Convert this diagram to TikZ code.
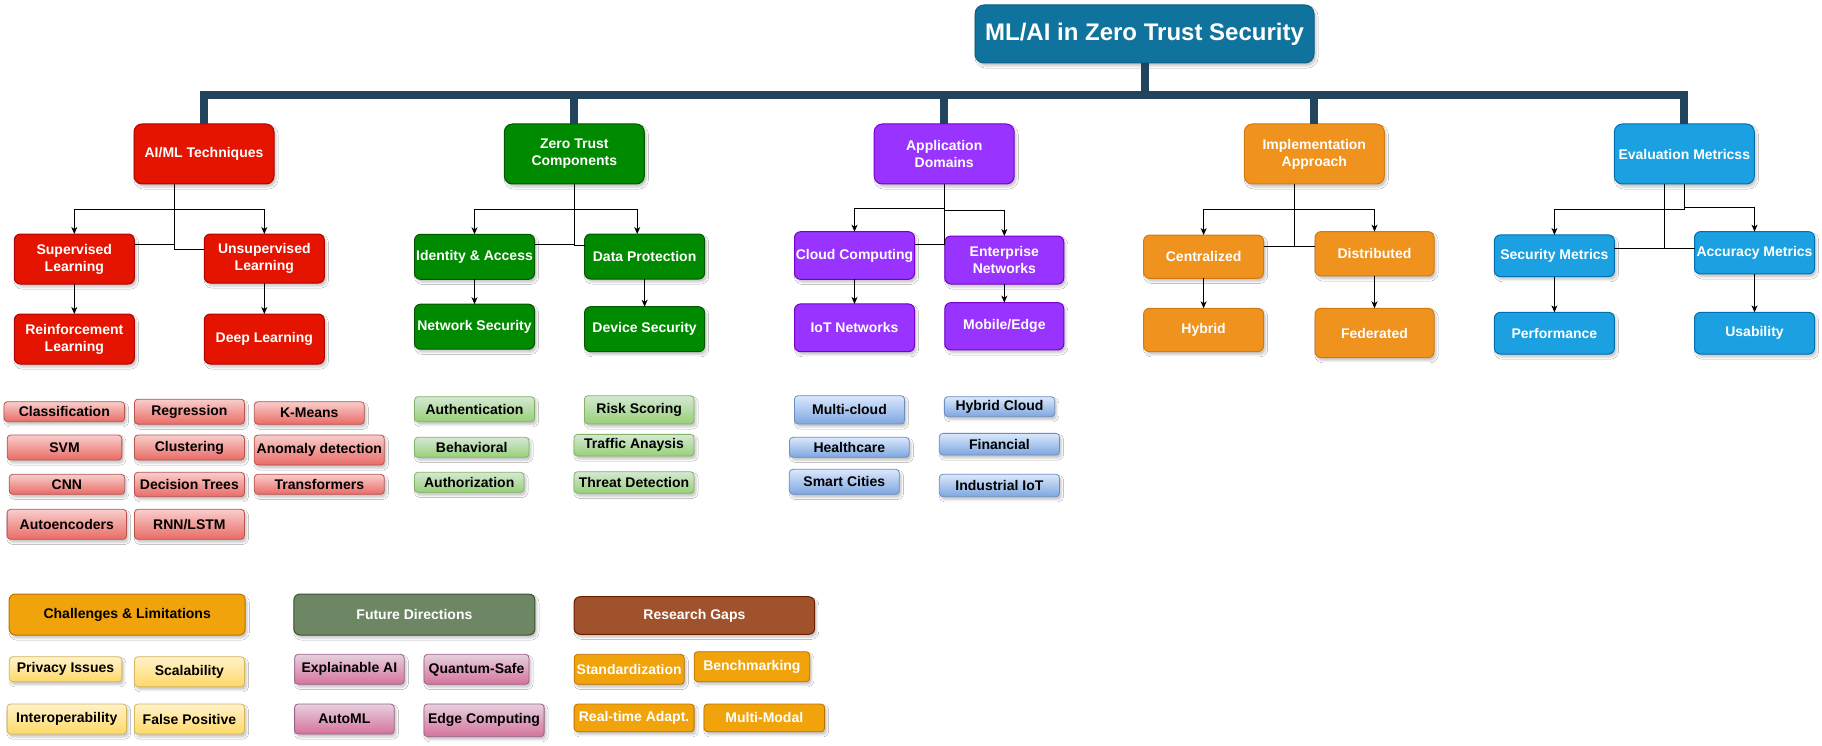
\documentclass[tikz,border=0pt]{standalone}
\usepackage{fontspec}
\setmainfont{Liberation Sans}
\usetikzlibrary{arrows.meta,shadows.blur}

% palette
\definecolor{titlefill}{HTML}{10739E}
\definecolor{titleedge}{HTML}{0C5F84}
\definecolor{busblue}{HTML}{23445D}
\definecolor{redfill}{HTML}{E51400}
\definecolor{rededge}{HTML}{B20000}
\definecolor{greenfill}{HTML}{008A00}
\definecolor{greenedge}{HTML}{005700}
\definecolor{purplefill}{HTML}{9933FF}
\definecolor{purpleedge}{HTML}{7700CC}
\definecolor{orangefill}{HTML}{F0921E}
\definecolor{orangeedge}{HTML}{D27A12}
\definecolor{bluefill}{HTML}{1BA1E2}
\definecolor{blueedge}{HTML}{006EAF}
\definecolor{ambfill}{HTML}{F0A30A}
\definecolor{ambedge}{HTML}{BD7000}
\definecolor{olivefill}{HTML}{6D8764}
\definecolor{oliveedge}{HTML}{3A5431}
\definecolor{siennafill}{HTML}{A0522D}
\definecolor{siennaedge}{HTML}{6D1F00}
\definecolor{lrtop}{HTML}{F8CECC}\definecolor{lrbot}{HTML}{EA6B66}\definecolor{lredge}{HTML}{B85450}
\definecolor{lgtop}{HTML}{D5E8D4}\definecolor{lgbot}{HTML}{97D077}\definecolor{lgedge}{HTML}{82B366}
\definecolor{lbtop}{HTML}{DAE8FC}\definecolor{lbbot}{HTML}{7EA6E0}\definecolor{lbedge}{HTML}{6C8EBF}
\definecolor{lytop}{HTML}{FFF2CC}\definecolor{lybot}{HTML}{FFD966}\definecolor{lyedge}{HTML}{D6B656}
\definecolor{lptop}{HTML}{E6D0DE}\definecolor{lpbot}{HTML}{D5739D}\definecolor{lpedge}{HTML}{996185}

\begin{document}
\begin{tikzpicture}[x=1pt,y=-1pt,
  box/.style={draw, align=center, inner sep=0pt, outer sep=0pt,
    font=\fontsize{14}{17}\selectfont\bfseries, line width=1pt,
    blur shadow={shadow xshift=2pt, shadow yshift=-3pt, shadow opacity=22, shadow blur steps=4}},
  head/.style={box, rounded corners=8pt, minimum width=140pt, minimum height=60pt, text=white},
  sub/.style={box, rounded corners=6pt, text=white},
  leaf/.style={box, rounded corners=3.5pt, text=black, line width=0.8pt},
  band/.style={box, rounded corners=6pt},
  cred/.style={fill=redfill, draw=rededge},
  cgreen/.style={fill=greenfill, draw=greenedge},
  cpurple/.style={fill=purplefill, draw=purpleedge},
  corange/.style={fill=orangefill, draw=orangeedge},
  cblue/.style={fill=bluefill, draw=blueedge},
  lred/.style={leaf, top color=lrtop, bottom color=lrbot, draw=lredge},
  lgreen/.style={leaf, top color=lgtop, bottom color=lgbot, draw=lgedge},
  lblue/.style={leaf, top color=lbtop, bottom color=lbbot, draw=lbedge},
  lyellow/.style={leaf, top color=lytop, bottom color=lybot, draw=lyedge},
  lpink/.style={leaf, top color=lptop, bottom color=lpbot, draw=lpedge},
  lamber/.style={leaf, fill=ambfill, draw=ambedge, text=white},
  link/.style={draw=black, line width=1pt},
  arr/.style={link, -{Stealth[length=7pt,width=6pt,inset=2pt]}},
  bus/.style={draw=busblue, line width=8pt},
]
\fill[white] (0,0) rectangle (1822,746);
\useasboundingbox (0,0) rectangle (1822,746);

% root
\node[box, rounded corners=9pt, fill=titlefill, draw=titleedge, text=white,
      minimum width=339pt, minimum height=58pt,
      font=\fontsize{24}{28}\selectfont\bfseries] (title) at (1144.5,34) {ML/AI in Zero Trust Security};

% category heads
\node[head, cred]    (tech) at (204,154)    {AI/ML Techniques};
\node[head, cgreen]  (zt)   at (574.3,154)  {Zero Trust\\Components};
\node[head, cpurple] (app)  at (944.2,154)  {Application\\Domains};
\node[head, corange] (impl) at (1314.3,154) {Implementation\\Approach};
\node[head, cblue]   (eval) at (1684.3,154) {Evaluation Metricss};

% AI/ML techniques
\node[sub, cred, minimum width=120pt, minimum height=50pt] (sup)   at (74.3,259)   {Supervised\\Learning};
\node[sub, cred, minimum width=120pt, minimum height=49pt] (unsup) at (264.3,258.5) {Unsupervised\\Learning};
\node[sub, cred, minimum width=120pt, minimum height=50pt] (rl)    at (74.3,339)   {Reinforcement\\Learning};
\node[sub, cred, minimum width=120pt, minimum height=50pt] (dl)    at (264.3,339)  {Deep Learning};

% zero trust components
\node[sub, cgreen, minimum width=120pt, minimum height=45pt] (ida)    at (474.5,256.8) {Identity \& Access};
\node[sub, cgreen, minimum width=120pt, minimum height=45pt] (netsec) at (474.5,326.7) {Network Security};
\node[sub, cgreen, minimum width=120pt, minimum height=45pt] (dp)     at (644.6,256.5) {Data Protection};
\node[sub, cgreen, minimum width=120pt, minimum height=45pt] (devsec) at (644.6,329.2) {Device Security};

% application domains
\node[sub, cpurple, minimum width=120pt, minimum height=47.6pt] (cloud) at (854.5,255.5)  {Cloud Computing};
\node[sub, cpurple, minimum width=120pt, minimum height=47.7pt] (iot)   at (854.5,327.8)  {IoT Networks};
\node[sub, cpurple, minimum width=119pt, minimum height=48pt]   (ent)   at (1004.3,260)   {Enterprise\\Networks};
\node[sub, cpurple, minimum width=119pt, minimum height=47.3pt] (mob)   at (1004.3,326.3) {Mobile/Edge};

% implementation approach
\node[sub, corange, minimum width=120pt, minimum height=43.3pt] (cent) at (1203.6,256.7) {Centralized};
\node[sub, corange, minimum width=120pt, minimum height=43.4pt] (hyb)  at (1203.6,330)   {Hybrid};
\node[sub, corange, minimum width=119pt, minimum height=44.3pt] (dist) at (1374.5,253.8) {Distributed};
\node[sub, corange, minimum width=119pt, minimum height=49.4pt] (fed)  at (1374.5,333)   {Federated};

% evaluation metrics
\node[sub, cblue, minimum width=120pt, minimum height=41.7pt] (secm) at (1554.4,255.8) {Security Metrics};
\node[sub, cblue, minimum width=120pt, minimum height=41.7pt] (perf) at (1554.4,333.2) {Performance};
\node[sub, cblue, minimum width=120pt, minimum height=42.3pt] (accm) at (1754.5,252.8) {Accuracy Metrics};
\node[sub, cblue, minimum width=120pt, minimum height=41.7pt] (usab) at (1754.5,333.2) {Usability};

% technique leaves
\node[lred, minimum width=120.6pt, minimum height=20pt] (cls)   at (64.3,411.7)  {Classification};
\node[lred, minimum width=110pt,   minimum height=25pt] (reg)   at (189.4,411.7) {Regression};
\node[lred, minimum width=110pt,   minimum height=22.6pt] (kmn) at (309.3,413)   {K-Means};
\node[lred, minimum width=114.7pt, minimum height=25pt] (svm)   at (64.5,447.5)  {SVM};
\node[lred, minimum width=110pt,   minimum height=25pt] (clu)   at (189.4,447.5) {Clustering};
\node[lred, minimum width=130pt,   minimum height=30pt] (anom)  at (319.3,450)   {Anomaly detection};
\node[lred, minimum width=115.5pt, minimum height=20pt] (cnn)   at (66.9,484.3)  {CNN};
\node[lred, minimum width=110pt,   minimum height=24.4pt] (dtr) at (189.4,484.5) {Decision Trees};
\node[lred, minimum width=130pt,   minimum height=20pt] (trf)   at (319.3,484.3) {Transformers};
\node[lred, minimum width=119.4pt, minimum height=30pt] (aenc)  at (66.8,524.3)  {Autoencoders};
\node[lred, minimum width=110pt,   minimum height=30pt] (rnn)   at (189.4,524.3) {RNN/LSTM};

% zero trust leaves
\node[lgreen, minimum width=120pt,   minimum height=25pt]   (authn) at (474.5,409.2) {Authentication};
\node[lgreen, minimum width=114.6pt, minimum height=20pt]   (behv)  at (471.7,447.3) {Behavioral};
\node[lgreen, minimum width=109.6pt, minimum height=20pt]   (authz) at (469.2,482.3) {Authorization};
\node[lgreen, minimum width=109.6pt, minimum height=28.3pt] (risk)  at (639.2,409.8) {Risk Scoring};
\node[lgreen, minimum width=120pt,   minimum height=21.7pt] (traf)  at (634,445.2)   {Traffic Anaysis};
\node[lgreen, minimum width=120pt,   minimum height=21.6pt] (thr)   at (634,482.5)   {Threat Detection};

% domain leaves
\node[lblue, minimum width=110pt,   minimum height=28.3pt] (mcl)  at (849.5,409.8)  {Multi-cloud};
\node[lblue, minimum width=119.8pt, minimum height=20pt]   (hlth) at (849.3,447.3)  {Healthcare};
\node[lblue, minimum width=110pt,   minimum height=25pt]   (smc)  at (844.3,481.8)  {Smart Cities};
\node[lblue, minimum width=110.3pt, minimum height=20pt]   (hcl)  at (999.5,406.7)  {Hybrid Cloud};
\node[lblue, minimum width=120.2pt, minimum height=21.7pt] (fin)  at (999.4,444.2)  {Financial};
\node[lblue, minimum width=120.2pt, minimum height=22.4pt] (iiot) at (999.4,485.5)  {Industrial IoT};

% lower bands
\node[band, fill=ambfill, draw=ambedge, text=black, minimum width=236pt, minimum height=41pt] (chal) at (127.2,614.5) {Challenges \& Limitations};
\node[band, fill=olivefill, draw=oliveedge, text=white, minimum width=241pt, minimum height=41pt] (fut) at (414.4,614.5) {Future Directions};
\node[band, fill=siennafill, draw=siennaedge, text=white, minimum width=240.6pt, minimum height=37.6pt] (gaps) at (694.4,615.5) {Research Gaps};

\node[lyellow, minimum width=112.7pt, minimum height=25pt] (priv)  at (65.5,669.2)  {Privacy Issues};
\node[lyellow, minimum width=110pt,   minimum height=30pt] (scal)  at (189.4,671.7) {Scalability};
\node[lyellow, minimum width=119.4pt, minimum height=30pt] (intop) at (66.8,719)    {Interoperability};
\node[lyellow, minimum width=110pt,   minimum height=30pt] (fpos)  at (189.4,719)   {False Positive};

\node[lpink, minimum width=109.5pt, minimum height=30pt]   (xai)  at (349.4,669.3) {Explainable AI};
\node[lpink, minimum width=105pt,   minimum height=30pt]   (qsf)  at (476.5,669.3) {Quantum-Safe};
\node[lpink, minimum width=99.6pt,  minimum height=30pt]   (aml)  at (344.4,719)   {AutoML};
\node[lpink, minimum width=120.2pt, minimum height=32.7pt] (edg)  at (484,720.3)   {Edge Computing};

\node[lamber, minimum width=110pt,   minimum height=30pt]   (std)  at (629.2,669.3) {Standardization};
\node[lamber, minimum width=115.5pt, minimum height=30pt]   (bch)  at (751.9,666.7) {Benchmarking};
\node[lamber, minimum width=120pt,   minimum height=27.7pt] (rta)  at (634.1,717.9) {Real-time Adapt.};
\node[lamber, minimum width=120.6pt, minimum height=27.7pt] (mmd)  at (764.3,717.9) {Multi-Modal};

% trunk from the root to the five categories
\coordinate (busline) at (0,95);
\draw[bus] (tech.north) |- (busline -| eval.north) -- (eval.north);
\draw[bus] (title.south) -- (title.south |- busline);
\draw[bus] (zt.north) -- (zt.north |- busline);
\draw[bus] (app.north) -- (app.north |- busline);
\draw[bus] (impl.north) -- (impl.north |- busline);

% AI/ML techniques branches
\coordinate (techx) at ([xshift=-29.6pt]tech.south);
\draw[arr] (techx) -- ++(0,25) -| (sup.north);
\draw[arr] (techx) -- ++(0,25) -| (unsup.north);
\draw[link] ([yshift=14.7pt]sup.east) -| (techx);
\draw[link] ([yshift=9.2pt]unsup.west) -| (techx);
\draw[arr] (sup.south) -- (rl.north);
\draw[arr] (unsup.south) -- (dl.north);

% zero trust branches
\draw[arr] (zt.south) -- ++(0,25.3) -| (ida.north);
\draw[arr] (zt.south) -- ++(0,25.3) -| ([xshift=-7.4pt]dp.north);
\draw[link] ([yshift=12.5pt]ida.east) -| (zt.south);
\draw[link] ([yshift=11.5pt]dp.west) -| (zt.south);
\draw[arr] (ida.south) -- (netsec.north);
\draw[arr] (dp.south) -- (devsec.north);

% application domain branches
\draw[arr] (app.south) -- ++(0,24) -| (cloud.north);
\draw[arr] (app.south) -- ++(0,26.4) -| (ent.north);
\draw[link] ([yshift=11.2pt]cloud.east) -| (app.south);
\draw[link] (app.south) |- ([yshift=15.7pt]ent.west);
\draw[arr] (cloud.south) -- (iot.north);
\draw[arr] (ent.south) -- (mob.north);

% implementation branches
\coordinate (implx) at ([xshift=-19.9pt]impl.south);
\draw[arr] (implx) -- ++(0,25.3) -| (cent.north);
\draw[arr] (implx) -- ++(0,25.3) -| (dist.north);
\draw[link] ([yshift=10pt]cent.east) -| (implx);
\draw[link] ([yshift=7.1pt]dist.west) -| (implx);
\draw[arr] (cent.south) -- (hyb.north);
\draw[arr] (dist.south) -- (fed.north);

% evaluation branches
\coordinate (evalx) at ([xshift=-20.3pt]eval.south);
\draw[arr] (eval.south) -- ++(0,25) -| (secm.north);
\draw[arr] (eval.south) -- ++(0,23.4) -| (accm.north);
\draw[link] ([yshift=7.5pt]secm.east) -| (evalx);
\draw[link] ([yshift=4.5pt]accm.west) -| (evalx);
\draw[arr] (secm.south) -- (perf.north);
\draw[arr] (accm.south) -- (usab.north);
\end{tikzpicture}
\end{document}
